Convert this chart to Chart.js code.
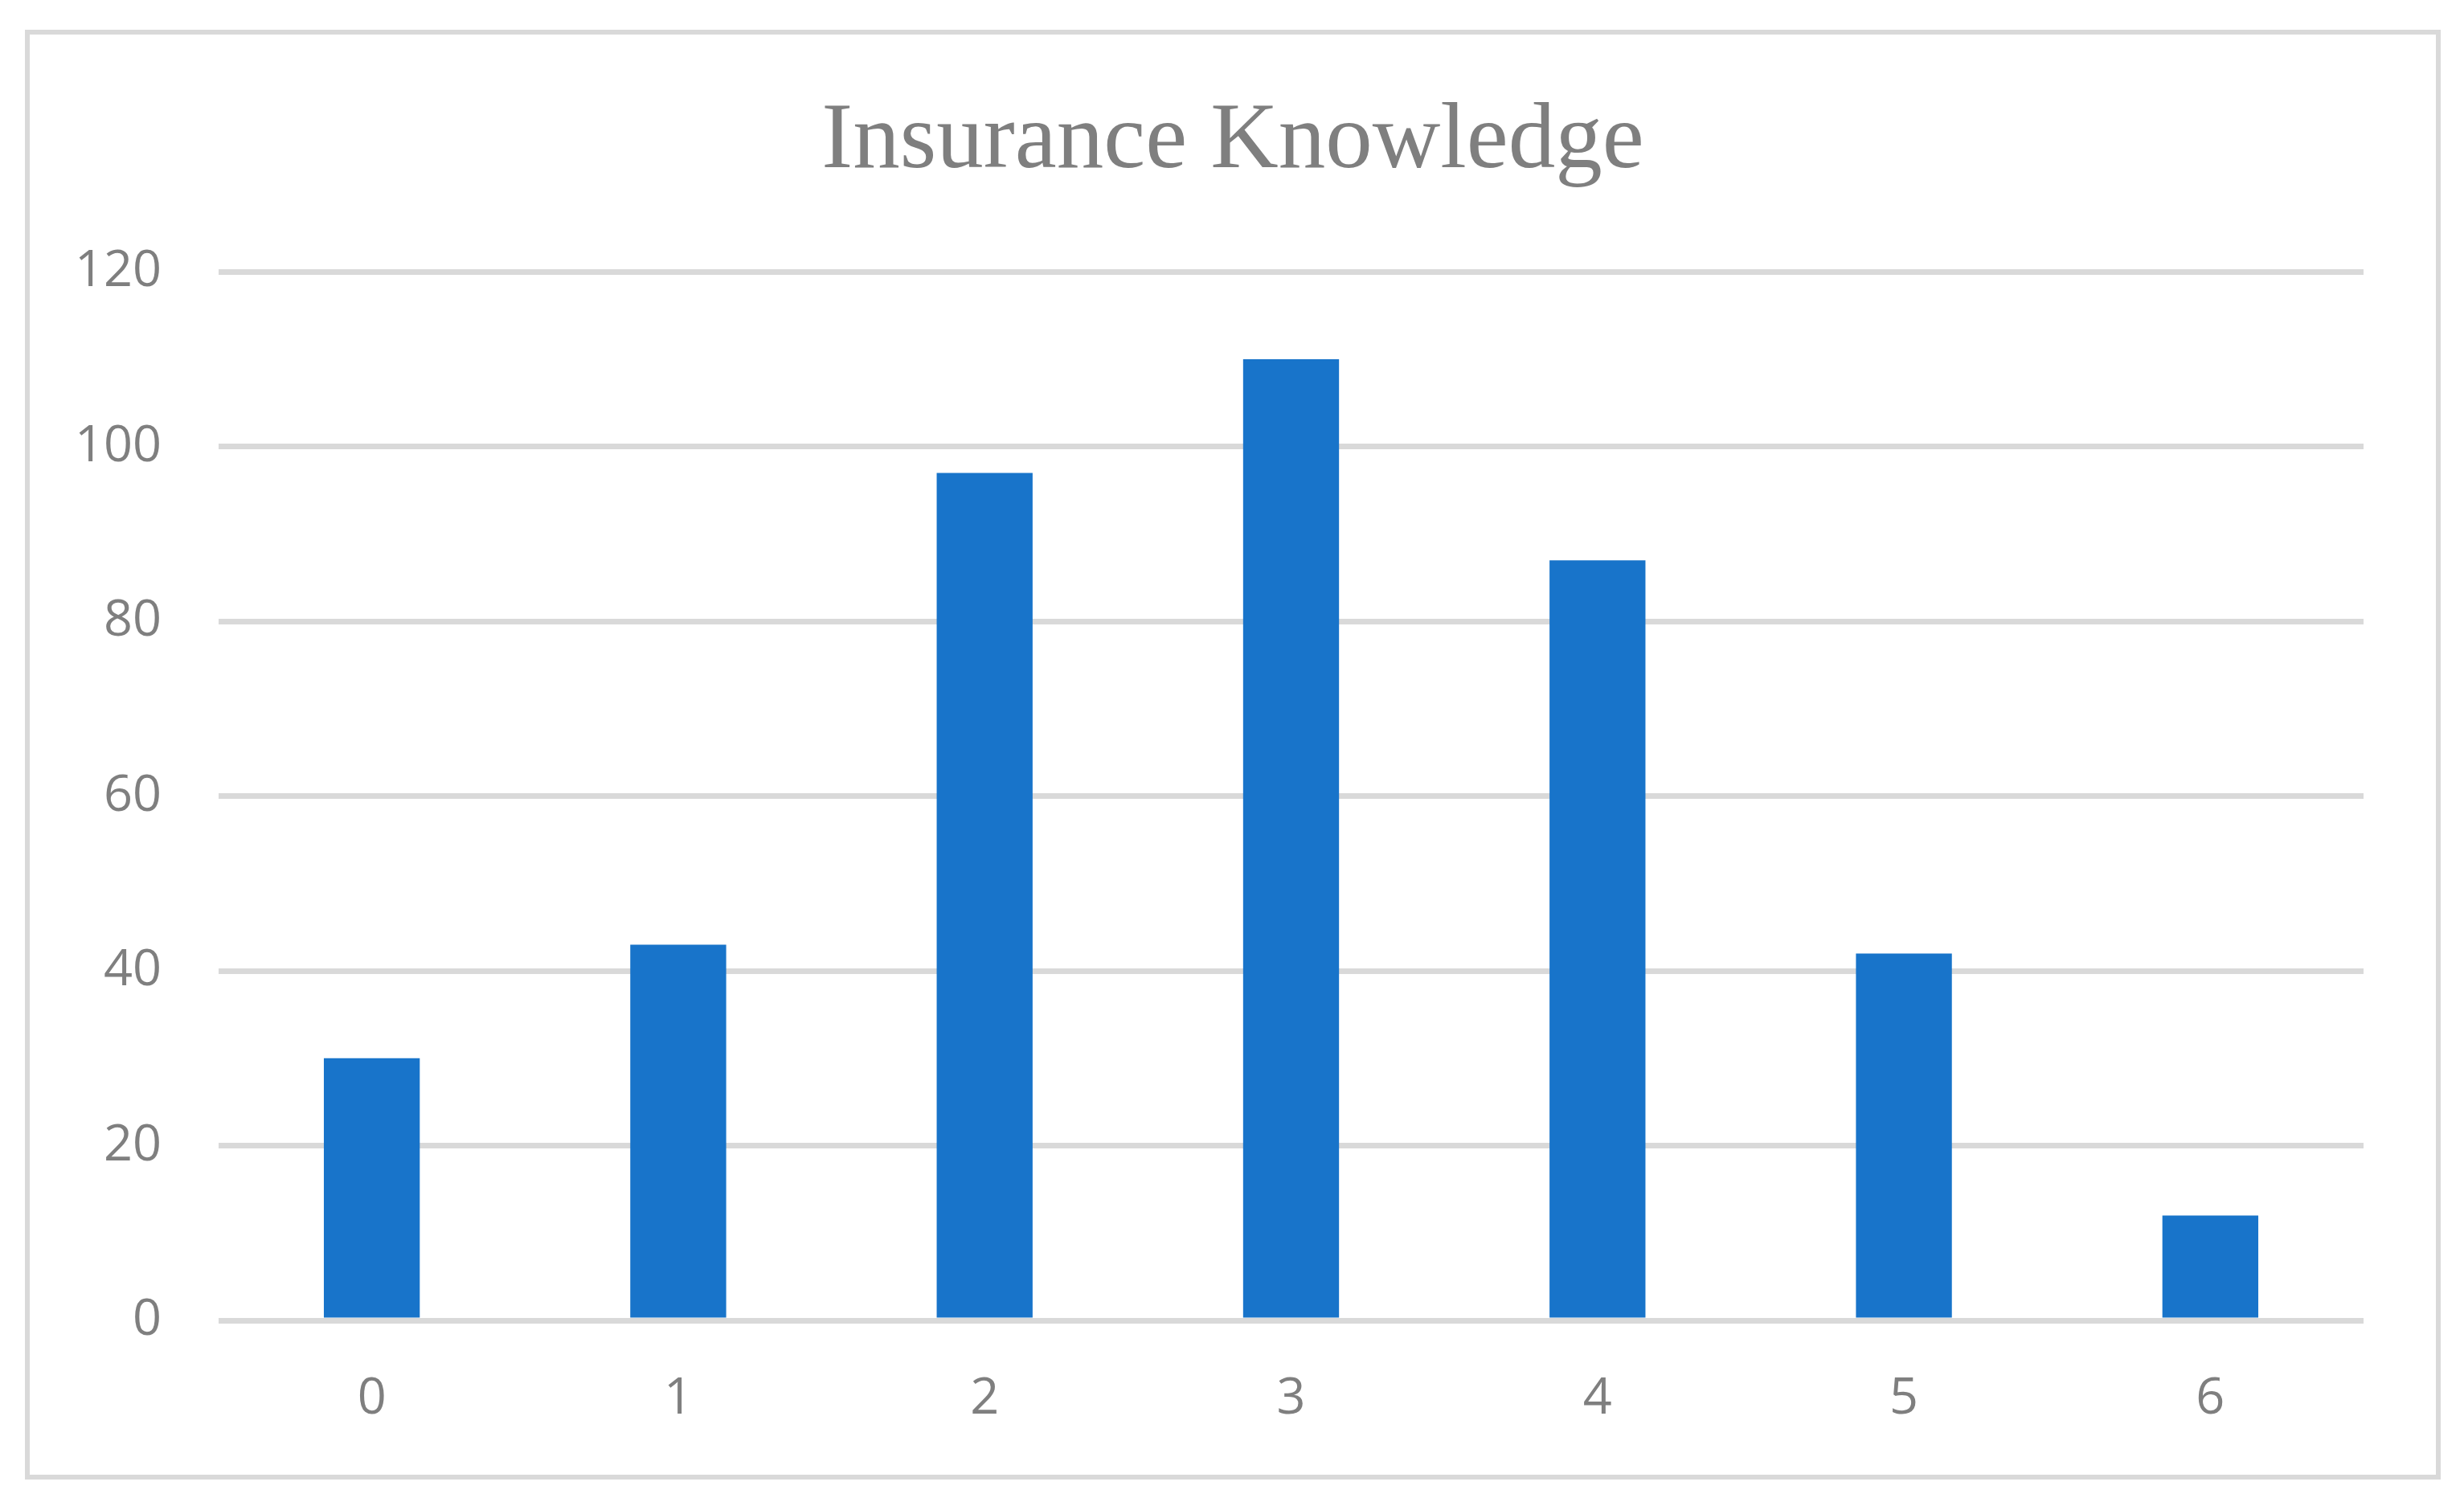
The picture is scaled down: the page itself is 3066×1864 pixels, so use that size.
<!DOCTYPE html>
<html>
<head>
<meta charset="utf-8">
<script src="https://cdn.jsdelivr.net/npm/chart.js@4/dist/chart.umd.min.js"></script>
<style>
  html, body { margin: 0; padding: 0; background: #fff; }
  #frame {
    position: absolute;
    left: 31px; top: 37px;
    width: 2994px; height: 1792px;
    border: 6px solid #d9d9d9;
    background: #fff;
  }
</style>
</head>
<body>
<div id="frame"><canvas id="knowledgeChart"></canvas></div>
<script>
const categories = ['0', '1', '2', '3', '4', '5', '6'];
const counts = [30, 43, 97, 110, 87, 42, 12];
const yTicks = [0, 20, 40, 60, 80, 100, 120];

const textGrey = '#7f7f7f';

const ctx = document.getElementById('knowledgeChart');
const chart = new Chart(ctx, {
    type: 'bar',
    data: {
        labels: categories,
        datasets: [{
            data: counts,
            backgroundColor: '#1874ca',
            borderWidth: 0,
            barPercentage: 0.313,
            categoryPercentage: 1
        }]
    },
    options: {
      responsive: true,
      maintainAspectRatio: false,
      animation: false,
      layout: {
        padding: 0
      },
      scales: {
        x: {
          grid: { display: false, drawTicks: false },
          border: { display: false },
          ticks: {
            color: textGrey,
            font: { family: 'Open Sans', size: 63 },
            padding: 60
          },
          afterFit: (scale) => { scale.height = 192; }
        },
        y: {
          min: yTicks[0],
          max: yTicks[yTicks.length - 1],
          grid: { color: '#d9d9d9', lineWidth: 7, drawTicks: false },
          border: { display: false },
          ticks: {
            stepSize: yTicks[1] - yTicks[0],
            color: textGrey,
            font: { family: 'Open Sans', size: 63 },
            padding: 71
          },
          afterFit: (scale) => { scale.width = 235; }
        },
        // empty right-hand gutter so the title stays centred on the frame
        gutter: {
          type: 'linear',
          position: 'right',
          grid: { display: false, drawTicks: false },
          border: { display: false },
          ticks: { display: false },
          afterFit: (scale) => { scale.width = 90; }
        }
      },
      plugins: {
        legend: { display: false },
        tooltip: { enabled: false },
        title: {
          display: true,
          text: 'Insurance Knowledge',
          color: textGrey,
          font: { family: 'Liberation Serif', size: 117, weight: 'normal', lineHeight: 1.2 },
          padding: { top: 64, bottom: 91 }
        }
      }
    }
});
</script>
</body>
</html>
